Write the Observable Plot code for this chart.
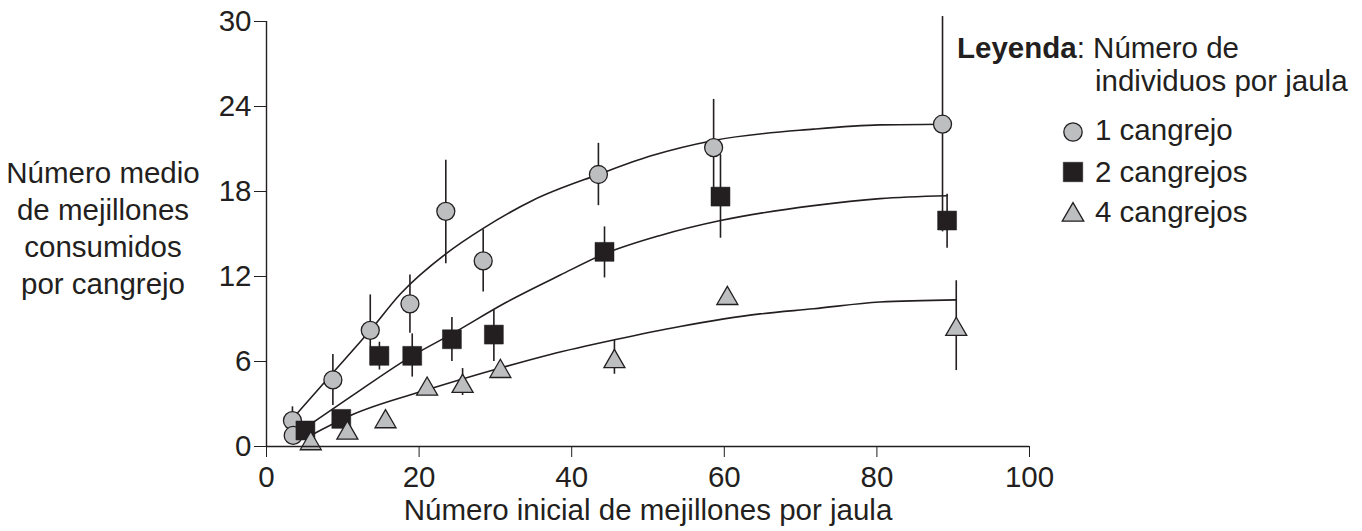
<!DOCTYPE html>
<html>
<head>
<meta charset="utf-8">
<script src="https://cdn.jsdelivr.net/npm/d3@7"></script>
<script src="https://cdn.jsdelivr.net/npm/@observablehq/plot@0.6"></script>
<style>
  html, body { margin: 0; padding: 0; background: #fff; }
  #chart { width: 1362px; height: 531px; }
</style>
</head>
<body>
<div id="chart"></div>
<script>
// ---- Data ----
const seriesNames = ["1 cangrejo", "2 cangrejos", "4 cangrejos"];

// 1 cangrejo (circles)
const c1X  = [3.4, 3.5, 8.7, 13.6, 18.8, 23.5, 28.4, 43.5, 58.6, 88.6];
const c1Y  = [1.83, 0.78, 4.7, 8.2, 10.07, 16.6, 13.1, 19.2, 21.1, 22.75];
const c1Lo = [0.9, null, 2.9, 5.7, 8.0, 12.9, 10.9, 17.0, 17.7, 15.15];
const c1Hi = [2.8, null, 6.5, 10.7, 12.1, 20.2, 15.3, 21.4, 24.5, 30.35];

// 2 cangrejos (squares)
const c2X  = [5.1, 9.8, 14.8, 19.1, 24.3, 29.8, 44.3, 59.5, 89.2];
const c2Y  = [1.13, 1.95, 6.4, 6.4, 7.57, 7.9, 13.74, 17.64, 15.95];
const c2Lo = [null, null, 5.4, 4.9, 6.0, 6.0, 11.9, 14.7, 14.0];
const c2Hi = [null, null, 7.36, 7.95, 9.1, 9.6, 15.5, 20.6, 17.8];

// 4 cangrejos (triangles)
const c4X  = [5.8, 10.6, 15.6, 21.05, 25.7, 30.65, 45.6, 60.4, 90.4];
const c4Y  = [0.2, 0.95, 1.75, 4.05, 4.25, 5.3, 6.0, 10.45, 8.27];
const c4Lo = [null, null, null, null, 3.6, null, 5.1, null, 5.36];
const c4Hi = [null, null, null, null, 5.5, null, 7.5, null, 11.7];

// Fitted curves
const fit1X = [3.8, 8.7, 13.6, 17.6, 23.5, 28.4, 35.0, 43.5, 50.3, 58.6, 71.7, 80.4, 88.6];
const fit1Y = [2.2, 5.2, 8.2, 10.8, 13.6, 15.4, 17.4, 19.2, 20.5, 21.6, 22.4, 22.7, 22.75];
const fit2X = [5.3, 11.0, 19.1, 24.3, 31.5, 38.5, 44.3, 51.6, 59.5, 71.7, 80.4, 89.2];
const fit2Y = [1.4, 3.5, 6.4, 7.95, 10.2, 12.1, 13.6, 14.9, 15.95, 17.0, 17.5, 17.7];
const fit4X = [6.2, 11.0, 21.05, 30.65, 37.2, 45.6, 54.2, 64.7, 71.7, 80.4, 90.4];
const fit4Y = [0.9, 2.19, 4.0, 5.54, 6.5, 7.53, 8.47, 9.36, 9.72, 10.2, 10.35];

const xTicks = [0, 20, 40, 60, 80, 100];
const yTicks = [0, 6, 12, 18, 24, 30];

const xLabel = "Número inicial de mejillones por jaula";
const yLabelLines = ["Número medio", "de mejillones", "consumidos", "por cangrejo"];
const legendTitleBold = "Leyenda";
const legendTitleRest = ": Número de";
const legendTitle2 = "individuos por jaula";

// ---- Build tables ----
function pts(xs, ys, s) { return xs.map((x, i) => ({x, y: ys[i], s})); }
function errs(xs, lo, hi, s) {
  return xs.map((x, i) => ({x, lo: lo[i], hi: hi[i], s})).filter(d => d.lo != null && d.hi != null);
}
const dots1 = pts(c1X, c1Y, seriesNames[0]);
const dots2 = pts(c2X, c2Y, seriesNames[1]);
const dots4 = pts(c4X, c4Y, seriesNames[2]);
const errAll = [...errs(c1X, c1Lo, c1Hi, seriesNames[0]), ...errs(c2X, c2Lo, c2Hi, seriesNames[1]), ...errs(c4X, c4Lo, c4Hi, seriesNames[2])];
const fits = [...pts(fit1X, fit1Y, seriesNames[0]), ...pts(fit2X, fit2Y, seriesNames[1]), ...pts(fit4X, fit4Y, seriesNames[2])];

const ink = "#231f20";
const grey = "#bcbec0";
const FONT = "'Liberation Sans', Arial, Helvetica, sans-serif";
const FS = 29.5;

const W = 1362, H = 531;
const mL = 266, mR = 333, mT = 21, mB = 85;

const plot = Plot.plot({
  width: W, height: H,
  marginLeft: mL, marginRight: mR, marginTop: mT, marginBottom: mB,
  x: {domain: [0, 100]},
  y: {domain: [0, 30]},
  style: {fontFamily: FONT, fontSize: FS + "px", color: ink, background: "#fff", overflow: "visible"},
  marks: [
    Plot.line(fits, {x: "x", y: "y", z: "s", curve: "monotone-x", stroke: ink, strokeWidth: 1.6}),
    Plot.ruleX(errAll, {x: "x", y1: "lo", y2: "hi", stroke: ink, strokeWidth: 1.6}),
    Plot.dot(dots1, {x: "x", y: "y", r: 9, symbol: "circle", fill: grey, stroke: ink, strokeWidth: 1.3}),
    Plot.dot(dots2, {x: "x", y: "y", r: 10.7, symbol: "square", fill: ink, stroke: ink, strokeWidth: 0.5}),
    Plot.dot(dots4, {x: "x", y: "y", r: 7.8, symbol: "triangle", fill: grey, stroke: ink, strokeWidth: 1.3}),
    Plot.ruleY([0], {stroke: ink, strokeWidth: 1.4}),
    Plot.ruleX([0], {stroke: ink, strokeWidth: 1.4}),
    Plot.axisX({ticks: xTicks, tickSize: 11, tickPadding: 9, label: null, stroke: ink, fill: ink}),
    Plot.axisY({ticks: yTicks, tickSize: 12, tickPadding: 3, label: null, stroke: ink, fill: ink})
  ]
});

document.getElementById("chart").appendChild(plot);

// ---- Labels and legend (added into the same SVG) ----
const svg = d3.select(plot);
const g = svg.append("g").attr("font-family", FONT).attr("font-size", FS).attr("fill", ink);

// x-axis title
g.append("text").attr("x", 648).attr("y", 520).attr("text-anchor", "middle").text(xLabel);

// y-axis title (multi-line)
const yl = g.append("text").attr("text-anchor", "middle");
yLabelLines.forEach((t, i) => {
  yl.append("tspan").attr("x", 103).attr("y", 183 + i * 37).text(t);
});

// legend
const lt = g.append("text").attr("x", 957).attr("y", 58).attr("text-anchor", "start");
lt.append("tspan").attr("font-weight", "bold").text(legendTitleBold);
lt.append("tspan").text(legendTitleRest);
g.append("text").attr("x", 1095).attr("y", 91).attr("text-anchor", "start").text(legendTitle2);

const legendSymbols = [
  {sym: d3.symbolCircle, r: 9.2, fill: grey, sw: 1.3, cy: 132},
  {sym: d3.symbolSquare, r: 11, fill: ink, sw: 0.5, cy: 172},
  {sym: d3.symbolTriangle, r: 8, fill: grey, sw: 1.3, cy: 215}
];
const legendBaselines = [140, 181.5, 222];
seriesNames.forEach((name, i) => {
  const s = legendSymbols[i];
  g.append("path")
    .attr("d", d3.symbol(s.sym, Math.PI * s.r * s.r)())
    .attr("transform", `translate(1073,${s.cy})`)
    .attr("fill", s.fill).attr("stroke", ink).attr("stroke-width", s.sw);
  g.append("text").attr("x", 1095).attr("y", legendBaselines[i]).attr("text-anchor", "start").text(name);
});
</script>
</body>
</html>
